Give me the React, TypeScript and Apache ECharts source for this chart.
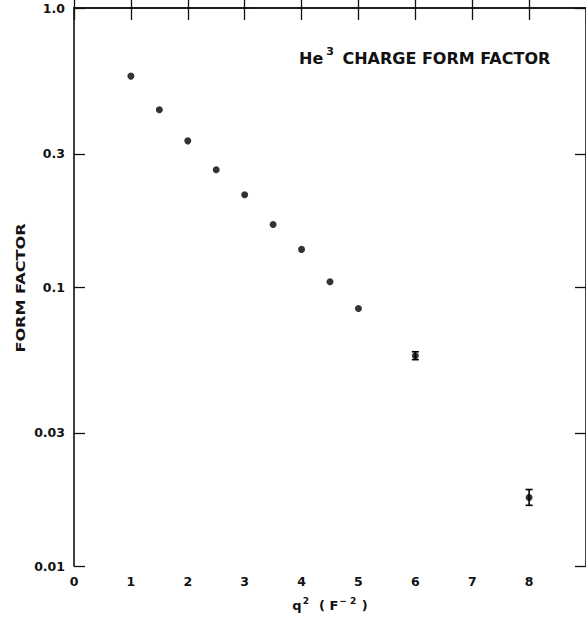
import React, { useEffect, useRef } from "react";
import * as echarts from "echarts";

// q^2 (F^-2) and He3 charge form factor
const q2 = [1, 1.5, 2, 2.5, 3, 3.5, 4, 4.5, 5, 6, 8];
const formFactor = [0.57, 0.432, 0.334, 0.263, 0.214, 0.1675, 0.1364, 0.1045, 0.0837, 0.0567, 0.0176];
// error bars [low, high] for the points that carry them
const errX = [6, 8];
const errLow = [0.0549, 0.0165];
const errHigh = [0.0586, 0.0188];

const xTicks = [0, 1, 2, 3, 4, 5, 6, 7, 8, 9];
const xTickLabels = ["0", "1", "2", "3", "4", "5", "6", "7", "8", ""];
const yTickValues = [0.01, 0.03, 0.1, 0.3, 1];
const yTickLabels = ["0.01", "0.03", "0.1", "0.3", "1.0"];

const FONT = "DejaVu Sans";

export default function App() {
  const ref = useRef<HTMLDivElement>(null);
  useEffect(() => {
    if (!ref.current) return;
    const chart = echarts.init(ref.current, null, { renderer: "svg" });
    const logTicks = yTickValues.map((v) => Math.log10(v));
    const yLabelFor = (val: number) => {
      let best = 0;
      logTicks.forEach((t, i) => {
        if (Math.abs(t - val) < Math.abs(logTicks[best] - val)) best = i;
      });
      return yTickLabels[best];
    };
    const axisLine = { show: true, lineStyle: { color: "#111", width: 1.6 } };
    const tickStyle = { color: "#111", width: 1.3 };
    const labelStyle = { color: "#111", fontFamily: FONT, fontSize: 12.5, fontWeight: 600 as any };

    chart.setOption({
      animation: false,
      backgroundColor: "#fff",
      title: {
        text: "He{sup|3} CHARGE FORM FACTOR",
        left: 299,
        top: 46,
        padding: 0,
        textStyle: {
          fontFamily: FONT,
          fontSize: 16,
          fontWeight: "bold",
          color: "#111",
          rich: {
            sup: { fontFamily: FONT, fontSize: 11, fontWeight: "bold", color: "#111", verticalAlign: "top", padding: [0, 3, 14, 3] },
          },
        },
      },
      graphic: [
        {
          type: "text",
          x: 20,
          y: 288,
          rotation: Math.PI / 2,
          scaleX: 1.24,
          style: {
            text: "FORM FACTOR",
            fontFamily: FONT,
            fontSize: 13,
            fontWeight: "bold",
            fill: "#111",
            align: "center",
            verticalAlign: "middle",
          },
        },
      ],
      grid: { left: 74, top: 8, width: 515, height: 560.5 },
      xAxis: [
        {
          type: "value",
          min: 0,
          max: 9,
          interval: 1,
          position: "bottom",
          axisLine,
          axisTick: { show: true, inside: true, length: 11, lineStyle: tickStyle },
          splitLine: { show: false },
          axisLabel: {
            ...labelStyle,
            margin: 9,
            showMaxLabel: false,
            formatter: (v: number) => xTickLabels[xTicks.indexOf(Math.round(v))] ?? "",
          },
          name: "q{sup|2}  ( F{sup|− 2} )",
          nameLocation: "middle",
          nameGap: 30,
          nameTextStyle: {
            fontFamily: FONT,
            fontSize: 13,
            fontWeight: "bold",
            color: "#111",
            rich: {
              sup: { fontFamily: FONT, fontSize: 9, fontWeight: "bold", color: "#111", verticalAlign: "top", padding: [0, 1, 10, 1] },
            },
          },
        },
        {
          type: "value",
          min: 0,
          max: 9,
          interval: 1,
          position: "top",
          axisLine,
          axisTick: { show: true, inside: true, length: 12, lineStyle: tickStyle },
          axisLabel: { show: false },
          splitLine: { show: false },
        },
      ],
      yAxis: [
        {
          type: "log",
          min: 0.01,
          max: 1,
          logBase: 10,
          show: false,
          splitLine: { show: false },
        },
        {
          type: "value",
          min: -2,
          max: 0,
          position: "left",
          axisLine,
          axisTick: { show: true, inside: true, length: 11, lineStyle: tickStyle, customValues: logTicks },
          axisLabel: { ...labelStyle, margin: 9, customValues: logTicks, formatter: (v: number) => yLabelFor(v) },
          splitLine: { show: false },
        },
        {
          type: "value",
          min: -2,
          max: 0,
          position: "right",
          axisLine,
          axisTick: { show: true, inside: true, length: 11, lineStyle: tickStyle, customValues: logTicks },
          axisLabel: { show: false },
          splitLine: { show: false },
        },
      ],
      series: [
        {
          type: "scatter",
          xAxisIndex: 0,
          yAxisIndex: 0,
          symbol: "circle",
          symbolSize: 7,
          itemStyle: { color: "#000" },
          data: q2.map((x, i) => [x, formFactor[i]]),
        },
        {
          type: "custom",
          xAxisIndex: 0,
          yAxisIndex: 0,
          data: errX.map((x, i) => [x, errLow[i], errHigh[i]]),
          renderItem: (params: any, api: any) => {
            const x = api.value(0);
            const lo = api.coord([x, api.value(1)]);
            const hi = api.coord([x, api.value(2)]);
            const cap = 3.5;
            const style = { stroke: "#000", lineWidth: 1.6, fill: "none" };
            return {
              type: "group",
              children: [
                { type: "line", shape: { x1: lo[0], y1: lo[1], x2: hi[0], y2: hi[1] }, style },
                { type: "line", shape: { x1: lo[0] - cap, y1: lo[1], x2: lo[0] + cap, y2: lo[1] }, style },
                { type: "line", shape: { x1: hi[0] - cap, y1: hi[1], x2: hi[0] + cap, y2: hi[1] }, style },
              ],
            };
          },
          z: 3,
        },
      ],
    });
    return () => chart.dispose();
  }, []);
  return (
    <div
      ref={ref}
      style={{ position: "fixed", left: 0, top: 0, width: 586, height: 617, overflow: "hidden", background: "#fff" }}
    />
  );
}
